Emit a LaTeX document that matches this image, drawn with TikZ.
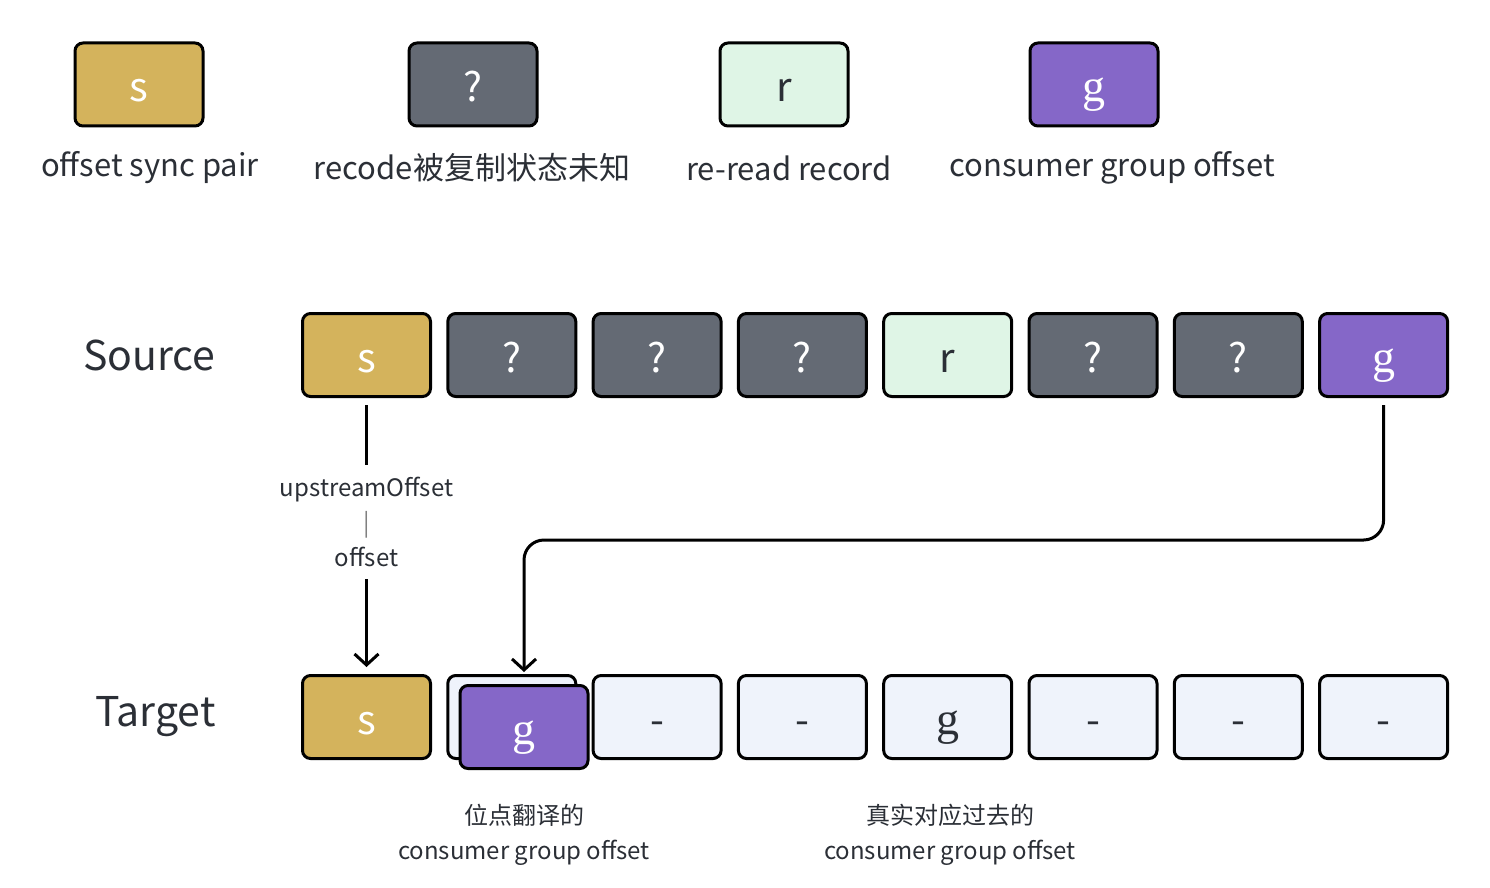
\documentclass[tikz,border=0pt]{standalone}
\usepackage{fontspec}
\setmainfont{Noto Sans CJK SC}
\newfontfamily\gfont{Liberation Serif}
\usepackage{tikz}
\usetikzlibrary{arrows.meta, positioning}

\definecolor{syncgold}{HTML}{D4B35C}
\definecolor{unkgray}{HTML}{646A74}
\definecolor{readmint}{HTML}{DFF5E6}
\definecolor{grppurple}{HTML}{8567C8}
\definecolor{freepale}{HTML}{EFF3FB}
\definecolor{txtgray}{HTML}{2B2F36}

\begin{document}
\begin{tikzpicture}[x=1pt, y=-1pt,
        cell/.style={rectangle, draw=black, line width=3pt, rounded corners=8pt, minimum width=128pt, minimum height=83pt, inner sep=0pt, text height=36pt, text depth=2pt, font=\fontsize{40}{40}\selectfont},
        slotsync/.style={cell, fill=syncgold, text=white},
        slotunk/.style={cell, fill=unkgray, text=white},
        slotread/.style={cell, fill=readmint, text=txtgray},
        slotgrp/.style={cell, fill=grppurple, text=white, font=\gfont\fontsize{46}{46}\selectfont},
        slotfree/.style={cell, fill=freepale, text=txtgray},
        slotgone/.style={cell, fill=freepale, text=txtgray, font=\gfont\fontsize{46}{46}\selectfont},
        legend/.style={font=\fontsize{31}{31}\selectfont, text=txtgray},
        rowlabel/.style={font=\fontsize{41}{41}\selectfont, text=txtgray},
        note/.style={font=\fontsize{24}{35}\selectfont, text=txtgray, align=center},
        arrow/.style={-{Straight Barb[length=11pt, width=24pt]}, line width=3pt}
    ]
    \useasboundingbox (0,0) rectangle (1490,888);

    % Legend
    \node (lsync) [slotsync] at (139,84.5) {s};
    \node (lunk) [slotunk] at (473,84.5) {?};
    \node (lread) [slotread] at (784,84.5) {r};
    \node (lgrp) [slotgrp] at (1094,84.5) {g};
    \node (lsynctext) [legend] at (150,168) {offset sync pair};
    \node (lunktext) [legend] at (472,168) {recode被复制状态未知};
    \node (lreadtext) [legend] at (789,168) {re-read record};
    \node (lgrptext) [legend] at (1112,168) {consumer group offset};

    % Source row
    \node (src1) [slotsync] at (366.5,355) {s};
    \node (src2) [slotunk, right=14.3pt of src1] {?};
    \node (src3) [slotunk, right=14.3pt of src2] {?};
    \node (src4) [slotunk, right=14.3pt of src3] {?};
    \node (src5) [slotread, right=14.3pt of src4] {r};
    \node (src6) [slotunk, right=14.3pt of src5] {?};
    \node (src7) [slotunk, right=14.3pt of src6] {?};
    \node (src8) [slotgrp, right=14.3pt of src7] {g};
    \node (source) [rowlabel, anchor=east, left=82pt of src1] {Source};

    % Target row
    \node (tgt1) [slotsync] at (366.5,717) {s};
    \node (tgt2) [slotfree, right=14.3pt of tgt1] {};
    \node (tgt3) [slotfree, right=14.3pt of tgt2] {-};
    \node (tgt4) [slotfree, right=14.3pt of tgt3] {-};
    \node (tgt5) [slotgone, right=14.3pt of tgt4] {g};
    \node (tgt6) [slotfree, right=14.3pt of tgt5] {-};
    \node (tgt7) [slotfree, right=14.3pt of tgt6] {-};
    \node (tgt8) [slotfree, right=14.3pt of tgt7] {-};
    \node (tgtg) [slotgrp] at (524,727) {g};
    \node (target) [rowlabel, anchor=east, left=82pt of tgt1] {Target};

    % Notes
    \node (transnote) [note] at (524,835) {位点翻译的\\consumer group offset};
    \node (realnote) [note] at (950,835) {真实对应过去的\\consumer group offset};

    % Edges
    \draw[arrow, shorten <=7pt, shorten >=7pt] (src1.south) -- node[note, fill=white, pos=0.45, inner xsep=2pt, inner ysep=12pt] {upstreamOffset\\\textcolor{gray}{|}\\offset} (tgt1.north);
    \draw[arrow, rounded corners=20pt, shorten <=7pt, shorten >=2pt] (src8.south) -- ++(0,142) -| (tgtg.north |- tgt2.north);

    \end{tikzpicture}
\end{document}
